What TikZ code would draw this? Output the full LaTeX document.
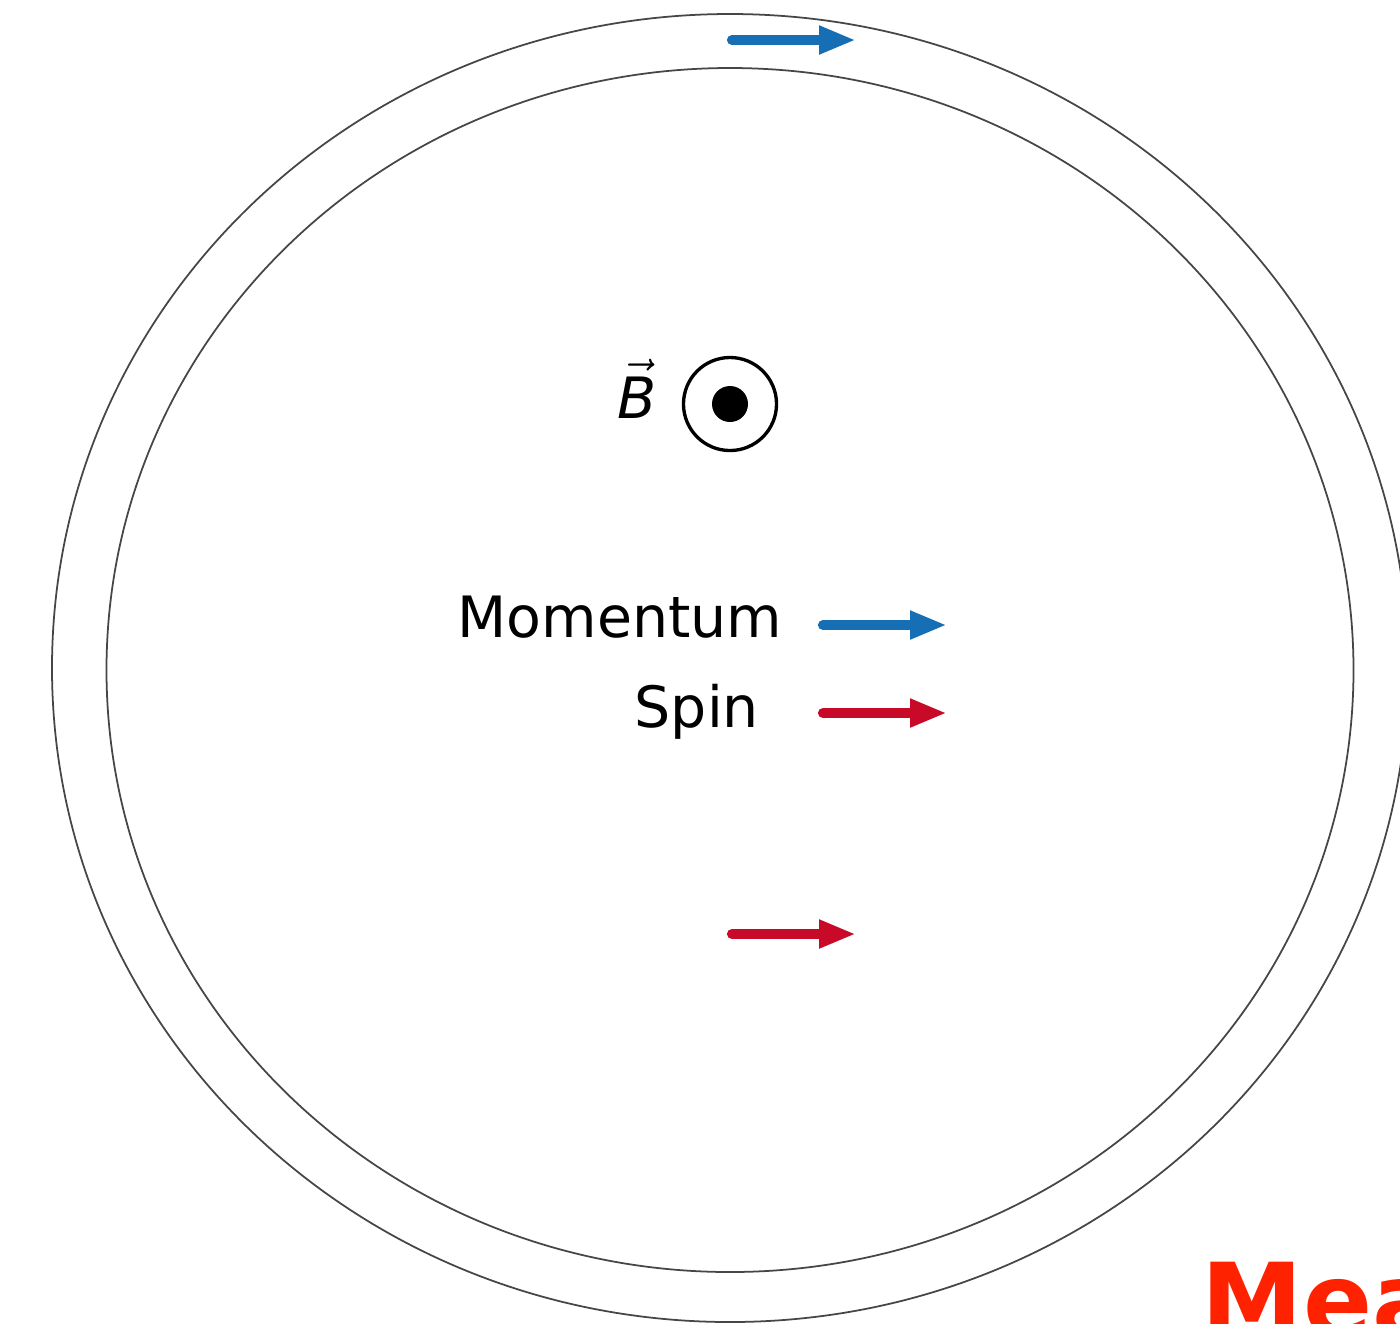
\documentclass[tikz,border=0pt]{standalone}
\usepackage{fontspec}
\setmainfont{DejaVu Sans}
\usetikzlibrary{arrows.meta}
\definecolor{mblue}{RGB}{22,110,180}
\definecolor{mred}{RGB}{200,10,40}
\definecolor{mea}{RGB}{255,34,0}
\definecolor{ring}{RGB}{70,70,70}
\tikzset{
  ringline/.style={draw=ring, line width=0.5pt},
  vecarrow/.style={line width=2.9pt, line cap=round, -{Triangle[length=10.5pt, width=7.5pt]}},
  lbl/.style={inner sep=0pt, font=\fontsize{16.2}{19}\selectfont},
}
\begin{document}
\begin{tikzpicture}[x=0.01cm, y=-0.01cm]
\useasboundingbox (0,0) rectangle (1400,1323);
\clip (0,0) rectangle (1400,1323);
\fill[white] (0,0) rectangle (1400,1323);
% rings
\draw[ringline] (730,668) ellipse [x radius=678, y radius=654];
\draw[ringline] (730,670) ellipse [x radius=623.5, y radius=602];
% B field symbol
\node[circle, draw, line width=0.95pt, minimum size=93*0.2845pt, inner sep=0pt] (bcirc) at (730,404) {};
\fill (bcirc.center) circle (18);
\node[lbl, anchor=base east] (blabel) at (657,418) {$\vec{\mbox{\itshape B}}$};
% legend
\node[lbl, anchor=base west] (mom) at (457,637) {Momentum};
\node[lbl, anchor=base west] (spin) at (634,727) {Spin};
\coordinate (m1) at (823,625); \coordinate (m2) at (947,625);
\coordinate (s1) at (823,713); \coordinate (s2) at (947,713);
\draw[vecarrow, mblue] (m1) -- (m2);
\draw[vecarrow, mred] (s1) -- (s2);
% particle arrows
\coordinate (t1) at (732,40); \coordinate (t2) at (856,40);
\coordinate (b1) at (732,934); \coordinate (b2) at (856,934);
\draw[vecarrow, mblue] (t1) -- (t2);
\draw[vecarrow, mred] (b1) -- (b2);
% cut-off title
\node[inner sep=0pt, anchor=base west, text=mea, font=\bfseries\fontsize{29}{34}\selectfont] (mea) at (1201,1336) {Measurement};
\end{tikzpicture}
\end{document}
